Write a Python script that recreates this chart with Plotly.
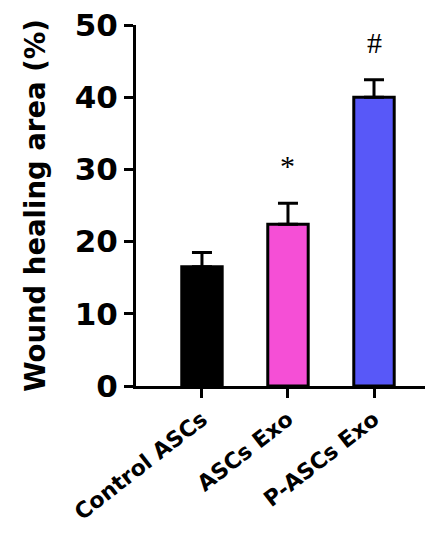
import plotly.graph_objects as go

categories = ["Control ASCs", "ASCs Exo", "P-ASCs Exo"]
means = [16.5, 22.4, 40.0]
errors = [2.0, 2.9, 2.4]
colors = ["#000000", "#F54FD6", "#5858F8"]
marks = ["", "*", "#"]
y_ticks = [0, 10, 20, 30, 40, 50]

fig = go.Figure()
fig.add_trace(go.Bar(
    x=list(range(len(categories))), y=means,
    width=0.47,
    marker=dict(color=colors, line=dict(color="black", width=3)),
    error_y=dict(type="data", array=errors, arrayminus=[0]*len(errors),
                 color="black", thickness=3, width=10),
    showlegend=False,
))

for i, (m, e, s) in enumerate(zip(means, errors, marks)):
    if s:
        fig.add_annotation(x=i, y=m + e + 5.2, text=s, showarrow=False,
                           font=dict(family="Liberation Serif", size=30, color="black"),
                           yanchor="middle")

fig.update_layout(
    width=425, height=547,
    margin=dict(l=128, r=0, t=17, b=169),
    plot_bgcolor="white", paper_bgcolor="white",
    bargap=0.5,
)
fig.update_xaxes(
    range=[-0.767, 2.686], automargin=False,
    tickvals=list(range(len(categories))), ticktext=categories,
    tickangle=-38,
    tickfont=dict(family="DejaVu Sans", size=22, color="black", weight="bold"),
    showline=True, linecolor="black", linewidth=3,
    ticks="outside", ticklen=9, tickwidth=3, tickcolor="black",
    showgrid=False, zeroline=False, ticklabeloverflow="allow",
)
fig.update_yaxes(
    range=[0, 50], tickvals=y_ticks, automargin=False,
    tickfont=dict(family="DejaVu Sans", size=31, color="black", weight="bold"),
    title=dict(text="Wound healing area (%)",
               font=dict(family="DejaVu Sans", size=27.5, color="black", weight="bold"),
               standoff=22),
    showline=True, linecolor="black", linewidth=3,
    ticks="outside", ticklen=9, tickwidth=3, tickcolor="black",
    showgrid=False, zeroline=False, ticklabeloverflow="allow",
)

fig.write_html("out.html")
